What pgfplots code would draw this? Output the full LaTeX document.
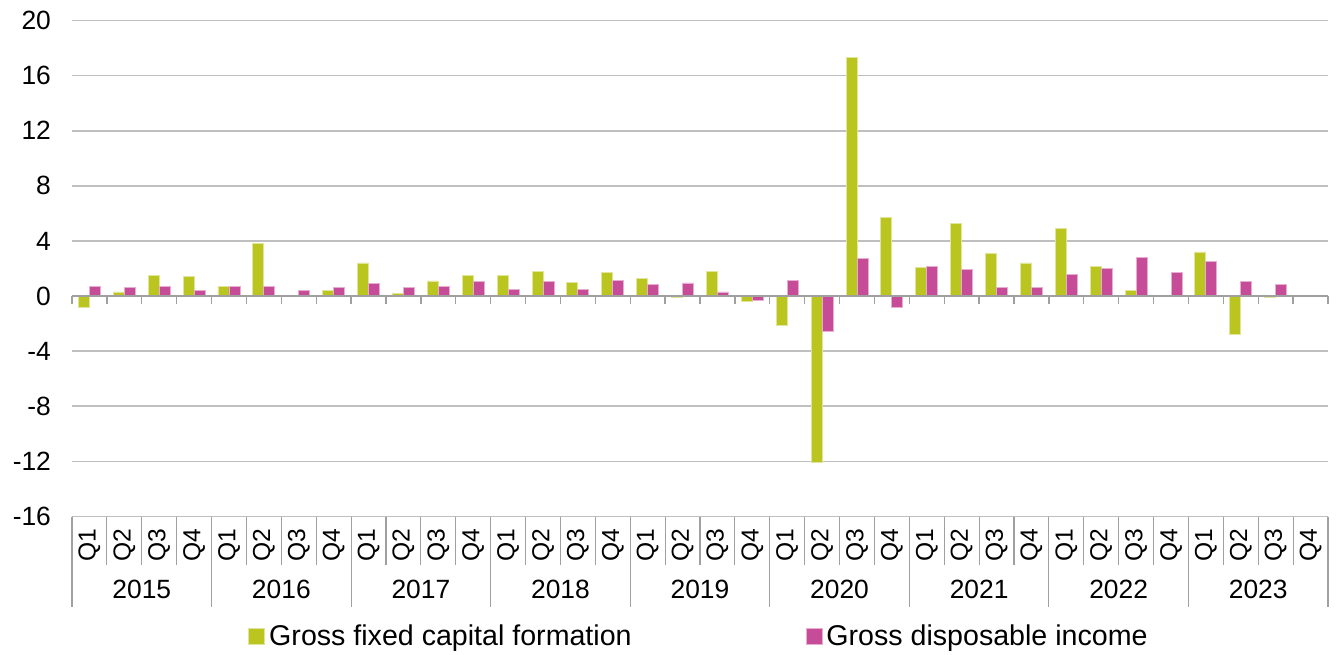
\documentclass[border=0pt]{standalone}
\usepackage{fontspec}
\setmainfont{Liberation Sans}
\usepackage{pgfplots}
\pgfplotsset{compat=1.18}
\usetikzlibrary{calc}
\definecolor{gfcf}{RGB}{187,197,31}
\definecolor{gdi}{RGB}{199,76,151}
\definecolor{gridgray}{RGB}{191,191,191}
\definecolor{axgray}{RGB}{160,160,160}
\newcommand\qlab[1]{\rotatebox{90}{\fontsize{12.3}{14}\selectfont Q#1}}

\begin{document}
\begin{tikzpicture}[font=\fontsize{13.2}{15}\selectfont]
\begin{axis}[
  scale only axis,
  width=628pt, height=248pt,
  xmin=0, xmax=36, ymin=-16, ymax=20,
  ytick={-16,-12,...,20},
  ymajorgrids,
  grid style={gridgray, line width=0.8pt},
  axis line style={draw=none},
  major tick length=0pt,
  yticklabel style={xshift=-7pt},
  xtick={0.5,1.5,...,35.5},
  xticklabels={\qlab1,\qlab2,\qlab3,\qlab4,\qlab1,\qlab2,\qlab3,\qlab4,\qlab1,\qlab2,\qlab3,\qlab4,
    \qlab1,\qlab2,\qlab3,\qlab4,\qlab1,\qlab2,\qlab3,\qlab4,\qlab1,\qlab2,\qlab3,\qlab4,
    \qlab1,\qlab2,\qlab3,\qlab4,\qlab1,\qlab2,\qlab3,\qlab4,\qlab1,\qlab2,\qlab3,\qlab4},
  xticklabel style={anchor=center, yshift=-14.5pt},
  extra x ticks={2,6,...,34},
  extra x tick labels={2015,2016,2017,2018,2019,2020,2021,2022,2023},
  extra x tick style={xticklabel style={yshift=-21.8pt}, grid=none},
  /pgf/number format/assume math mode=true,
  ybar=0pt,
  bar width=5.5pt,
  legend columns=2,
  legend style={at={(0.5,-0.242)}, anchor=center, draw=none,
    font=\fontsize{14.3}{16}\selectfont,
    /tikz/every even column/.append style={column sep=85pt}},
  legend image code/.code={\fill[#1] (0pt,-4pt) rectangle (8pt,4pt);},
  clip=false,
]
% gross fixed capital formation
\addplot[fill=gfcf, draw=gfcf!45!white, line width=0.4pt] coordinates {
  (0.5,-0.8) (1.5,0.3) (2.5,1.5) (3.5,1.4)
  (4.5,0.7) (5.5,3.8) (7.5,0.4)
  (8.5,2.4) (9.5,0.2) (10.5,1.1) (11.5,1.5)
  (12.5,1.5) (13.5,1.8) (14.5,1.0) (15.5,1.7)
  (16.5,1.3) (17.5,-0.1) (18.5,1.8) (19.5,-0.4)
  (20.5,-2.1) (21.5,-12.1) (22.5,17.3) (23.5,5.7)
  (24.5,2.05) (25.5,5.3) (26.5,3.1) (27.5,2.4)
  (28.5,4.9) (29.5,2.15) (30.5,0.4)
  (32.5,3.2) (33.5,-2.8) (34.5,-0.1)
};
% gross disposable income
\addplot[fill=gdi, draw=gdi!45!white, line width=0.4pt] coordinates {
  (0.5,0.7) (1.5,0.6) (2.5,0.7) (3.5,0.4)
  (4.5,0.7) (5.5,0.7) (6.5,0.4) (7.5,0.6)
  (8.5,0.9) (9.5,0.6) (10.5,0.7) (11.5,1.05)
  (12.5,0.5) (13.5,1.05) (14.5,0.5) (15.5,1.15)
  (16.5,0.85) (17.5,0.95) (18.5,0.3) (19.5,-0.3)
  (20.5,1.15) (21.5,-2.6) (22.5,2.7) (23.5,-0.8)
  (24.5,2.15) (25.5,1.9) (26.5,0.6) (27.5,0.6)
  (28.5,1.6) (29.5,2.0) (30.5,2.8) (31.5,1.7)
  (32.5,2.5) (33.5,1.05) (34.5,0.85)
};
\legend{Gross fixed capital formation, Gross disposable income}
% zero line with quarter ticks
\draw[axgray, line width=0.9pt] (axis cs:0,0) -- (axis cs:36,0);
\pgfplotsinvokeforeach{0,...,36}{
  \draw[axgray, line width=0.7pt] (axis cs:#1,0) -- ([yshift=-4pt]axis cs:#1,0);
  \draw[axgray, line width=0.6pt] (axis cs:#1,-16) -- ([yshift=-24pt]axis cs:#1,-16);
}
\pgfplotsinvokeforeach{0,4,...,36}{
  \draw[axgray, line width=0.6pt] (axis cs:#1,-16) -- ([yshift=-45pt]axis cs:#1,-16);
}
\coordinate (bl) at (rel axis cs:0,0);
\coordinate (tr) at (rel axis cs:1,1);
\end{axis}
\pgfresetboundingbox
\path ($(bl)+(-36pt,-69pt)$) rectangle ($(tr)+(5pt,10.25pt)$);
\end{tikzpicture}
\end{document}
